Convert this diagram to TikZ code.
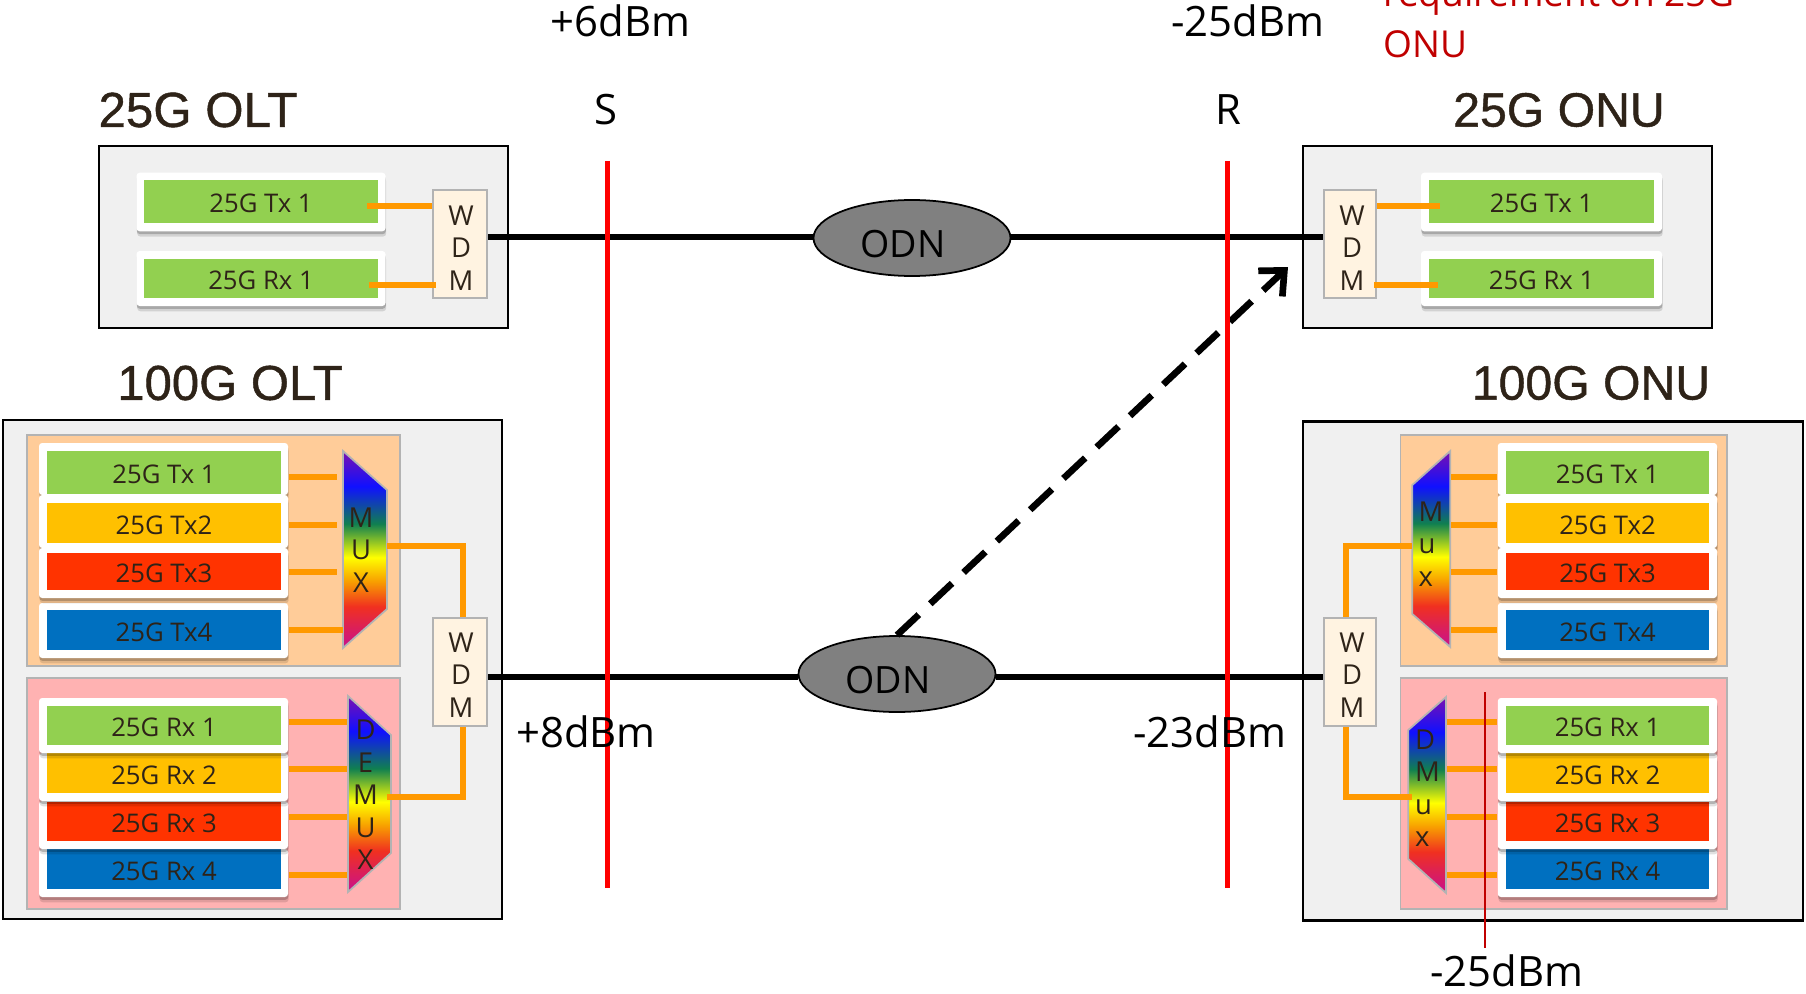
\documentclass[tikz,border=0pt]{standalone}
\usepackage{fontspec}
\setmainfont{Open Sans}
\newfontfamily\kopffont[FakeBold=0.9]{Liberation Sans}
\usetikzlibrary{shapes.geometric,shadows,arrows.meta}
\definecolor{gruen}{HTML}{92D050}
\definecolor{gelb}{HTML}{FFC000}
\definecolor{rot}{HTML}{FF3300}
\definecolor{blau}{HTML}{0070C0}
\definecolor{ader}{HTML}{FF9900}
\definecolor{schrift}{HTML}{2E2318}
\definecolor{rahmen}{HTML}{B3B3B3}
\definecolor{dunkelrot}{HTML}{C00000}
\definecolor{wdmfarbe}{HTML}{FFF3E1}
\definecolor{specmag}{HTML}{C8108F}
\definecolor{specrot}{HTML}{F03020}
\definecolor{specor}{HTML}{F8A000}
\definecolor{specgelb}{HTML}{FFFF00}
\definecolor{specgr}{HTML}{108050}
\definecolor{specbl}{HTML}{1010FF}
\definecolor{speclila}{HTML}{7A10B0}
\pgfdeclareverticalshading{spektrum}{100bp}{color(0bp)=(specmag); color(25bp)=(specmag); color(35.5bp)=(specrot); color(42bp)=(specor); color(48bp)=(specgelb); color(56.5bp)=(specgr); color(66bp)=(specbl); color(75bp)=(speclila); color(100bp)=(speclila)}
\tikzset{
	groesse/.style 2 args={minimum width=#1*0.01cm, minimum height=#2*0.01cm},
	geraet/.style={draw=black, line width=0.6pt, fill=black!6, inner sep=0pt},
	feld/.style={draw=rahmen, line width=0.5pt, inner sep=0pt},
	karte/.style={fill=white, rounded corners=0.9pt, inner sep=0pt,
		drop shadow={shadow xshift=0.2pt, shadow yshift=-1.5pt, opacity=0.12, fill=black},
		drop shadow={shadow xshift=0.1pt, shadow yshift=-0.8pt, opacity=0.2, fill=black}},
	kanal/.style={inner sep=0pt, text=schrift, font=\fontsize{7.3}{9}\selectfont, text height=6.4pt, text depth=0pt},
	wdmbox/.style={draw=rahmen, line width=0.5pt, fill=wdmfarbe, inner sep=0pt},
	buchst/.style={inner sep=0pt, align=center, text=schrift, font=\fontsize{7.8}{9.25}\selectfont},
	buchstl/.style={buchst, align=left},
	spekt/.style={shading=spektrum, draw=rahmen, line width=0.5pt},
	odn/.style={ellipse, draw=black, line width=0.5pt, fill=black!50, inner sep=0pt},
	odntext/.style={inner sep=0pt, font=\fontsize{10.7}{12}\selectfont},
	ader/.style={draw=ader, line width=1.9pt},
	faser/.style={line width=1.8pt},
	pegel/.style={inner sep=0pt, font=\fontsize{11.9}{14}\selectfont},
	kopf/.style={inner sep=0pt, text=schrift, font=\kopffont\fontsize{#1}{16}\selectfont}
}
\begin{document}
\begin{tikzpicture}[x=0.01cm,y=-0.01cm]
	\useasboundingbox (0,0) rectangle (1806,994);
	% Geraete
	\node [geraet, groesse={409}{182}] (oltkasten) at (303.5,237) {};
	\node [geraet, groesse={409}{182}] (onukasten) at (1507.5,237) {};
	\node [geraet, groesse={499.5}{499}] (oltgross) at (252.5,669.5) {};
	\node [geraet, groesse={500}{499}] (onugross) at (1553,671) {};
	% Felder Tx und Rx
	\node [feld, fill=orange!40, groesse={373}{231}] (oltfeldtx) at (213.5,550.5) {};
	\node [feld, fill=red!30, groesse={373}{231}] (oltfeldrx) at (213.5,793.5) {};
	\node [feld, fill=orange!40, groesse={326.5}{231}] (onufeldtx) at (1563.8,550.5) {};
	\node [feld, fill=red!30, groesse={326.5}{231}] (onufeldrx) at (1563.8,793.5) {};
	% 25G Karten oben
	\foreach \seite/\kx/\kw/\fw in {olta/261/249/234, onua/1541.5/241/225} {
		\foreach \kanal/\lab/\ky/\kh/\fy/\fh in {tx/25G Tx 1/202/58.6/201.5/43, rx/25G Rx 1/278.5/55/278.5/39} {
			\node [karte, groesse={\kw}{\kh}] (\seite k\kanal) at (\kx,\ky) {};
			\node [kanal, fill=gruen, groesse={\fw}{\fh}] (\seite\kanal) at (\kx,\fy) {\lab};
		}
	}
	% 100G Karten unten
	\foreach \seite/\kx/\kw/\fx/\fw in {olt/163.5/249/164/234, onu/1607.4/219.3/1607.5/203.6} {
		\foreach \kanal/\lab/\farbe/\ky/\kh/\fy/\fh in {
			txd/25G Tx4/blau/630.5/55/630/40,
			txa/25G Tx 1/gruen/469/52/472.5/43,
			txb/25G Tx2/gelb/521.5/53/523/40,
			txc/25G Tx3/rot/573/50/571.5/37,
			rxd/25G Rx 4/blau/873/48/869/40,
			rxc/25G Rx 3/rot/825/48/821.5/39,
			rxb/25G Rx 2/gelb/777/48/773/40,
			rxa/25G Rx 1/gruen/725.5/55/725.5/39} {
			\node [karte, groesse={\kw}{\kh}] (\seite k\kanal) at (\kx,\ky) {};
			\node [kanal, fill=\farbe, groesse={\fw}{\fh}] (\seite\kanal) at (\fx,\fy) {\lab};
		}
	}
	% MUX und DEMUX
	\shadedraw [spekt] (343,451) -- (387,490) -- (387,609) -- (343,648) -- cycle;
	\shadedraw [spekt] (348,696) -- (391,735) -- (391,853) -- (348,892) -- cycle;
	\shadedraw [spekt] (1450.3,451) -- (1412.3,485) -- (1412.3,614) -- (1450.3,647) -- cycle;
	\shadedraw [spekt] (1446,697) -- (1408.3,730) -- (1408.3,859) -- (1446,893) -- cycle;
	\node [buchst] (oltmuxt) at (361,550) {M\\U\\X};
	\node [buchst] (oltdemuxt) at (365.5,795) {D\\E\\M\\U\\X};
	\node [buchstl] (onumuxt) at (1431,544) {M\\u\\x};
	\node [buchstl] (onudmuxt) at (1427.5,788) {D\\M\\u\\x};
	% WDM
	\node [wdmbox, groesse={54}{108}] (oltwdma) at (460,244) {};
	\node [wdmbox, groesse={52}{108}] (onuwdma) at (1350,244) {};
	\node [wdmbox, groesse={54}{108}] (oltwdmb) at (460,672) {};
	\node [wdmbox, groesse={52}{108}] (onuwdmb) at (1350,672) {};
	% Adern
	\coordinate (oltatx) at (367,206);
	\coordinate (oltarx) at (369,285);
	\coordinate (onuatx) at (1439.5,206);
	\coordinate (onuarx) at (1437.5,285);
	\draw [ader] (oltatx) -- (oltatx -| oltwdma.west);
	\draw [ader] (oltarx) -- ([xshift=0.04cm]oltarx -| oltwdma.west);
	\draw [ader] (onuatx) -- (onuatx -| onuwdma.east);
	\draw [ader] (onuarx) -- ([xshift=-0.03cm]onuarx -| onuwdma.east);
	\foreach \kanal/\y/\xl/\xr in {txa/477/337/1451, txb/525/337/1451, txc/572/337/1451, txd/630/343/1451, rxa/722/347/1447, rxb/769/347/1447, rxc/817/347/1447, rxd/875/347/1447} {
		\coordinate (oltm\kanal) at (\xl,\y);
		\coordinate (onum\kanal) at (\xr,\y);
		\draw [ader] (oltm\kanal -| oltk\kanal.east) -- (oltm\kanal);
		\draw [ader] (onum\kanal -| onuk\kanal.west) -- (onum\kanal);
	}
	% Ausgaenge zum WDM
	\coordinate (oltmuxaus) at (387,546);
	\coordinate (oltdemuxaus) at (387,797);
	\coordinate (onumuxaus) at (1411.7,546);
	\coordinate (onudmuxaus) at (1411.7,797);
	\draw [ader] (oltmuxaus) -| ([xshift=0.03cm]oltwdmb.north);
	\draw [ader] (oltdemuxaus) -| ([xshift=0.03cm]oltwdmb.south);
	\draw [ader] (onumuxaus) -| ([xshift=-0.04cm]onuwdmb.north);
	\draw [ader] (onudmuxaus) -| ([xshift=-0.04cm]onuwdmb.south);
	% Buchstaben WDM
	\node [buchst] (oltwdmat) at (461,248) {W\\D\\M};
	\node [buchst] (onuwdmat) at (1352,248) {W\\D\\M};
	\node [buchst] (oltwdmbt) at (461,675) {W\\D\\M};
	\node [buchst] (onuwdmbt) at (1352,675) {W\\D\\M};
	% ODN
	\node [odn, groesse={197}{76}] (odna) at (912,238) {};
	\node [odn, groesse={197}{76}] (odnb) at (897,674) {};
	\node [odntext] (odnat) at (903,244.5) {ODN};
	\node [odntext] (odnbt) at (888,680) {ODN};
	% Fasern
	\coordinate (fasera) at (0,236.7);
	\coordinate (faserb) at (0,677);
	\draw [faser] (oltwdma.east |- fasera) -- (odna.west |- fasera);
	\draw [faser] (odna.east |- fasera) -- (onuwdma.west |- fasera);
	\draw [faser] (oltwdmb.east |- faserb) -- (odnb.west |- faserb);
	\draw [faser] (odnb.east |- faserb) -- (onuwdmb.west |- faserb);
	% Pfeil
	\coordinate (pfeilende) at (1288,267);
	\draw [faser, line width=1.9pt, dash pattern=on 8.5pt off 4.5pt, -{Straight Barb[length=5.5pt,width=10pt]}] (odnb.north) -- (pfeilende);
	% Referenzpunkte S und R
	\coordinate (soben) at (607.7,161);
	\coordinate (sunten) at (607.7,888);
	\coordinate (roben) at (1227.4,161);
	\coordinate (runten) at (1227.4,888);
	\draw [red, line width=1.5pt] (soben) -- (sunten);
	\draw [red, line width=1.5pt] (roben) -- (runten);
	\coordinate (messoben) at (1484.7,692);
	\coordinate (messunten) at (1484.7,948);
	\draw [dunkelrot, line width=0.45pt] (messoben) -- (messunten);
	% Beschriftung
	\node [kopf=14] (koltklein) at (198,110) {25G OLT};
	\node [kopf=13.7] (konuklein) at (1559,110) {25G ONU};
	\node [kopf=13.95] (koltgross) at (230,383) {100G OLT};
	\node [kopf=13.7] (konugross) at (1591,383) {100G ONU};
	\node [pegel] (ptxa) at (620.5,21) {+6dBm};
	\node [pegel] (prxa) at (1248,21) {-25dBm};
	\node [pegel] (ptxb) at (586,732) {+8dBm};
	\node [pegel] (prxb) at (1210,732) {-23dBm};
	\node [pegel] (pmess) at (1506.5,971) {-25dBm};
	\node [pegel] (labels) at (606,110) {S};
	\node [pegel] (labelr) at (1228,110) {R};
	\node [inner sep=0pt, anchor=south west, align=left, text=dunkelrot, font=\fontsize{10.55}{14.5}\selectfont] (anforderung) at (1383,59) {requirement on 25G\\ONU};
\end{tikzpicture}
\end{document}
